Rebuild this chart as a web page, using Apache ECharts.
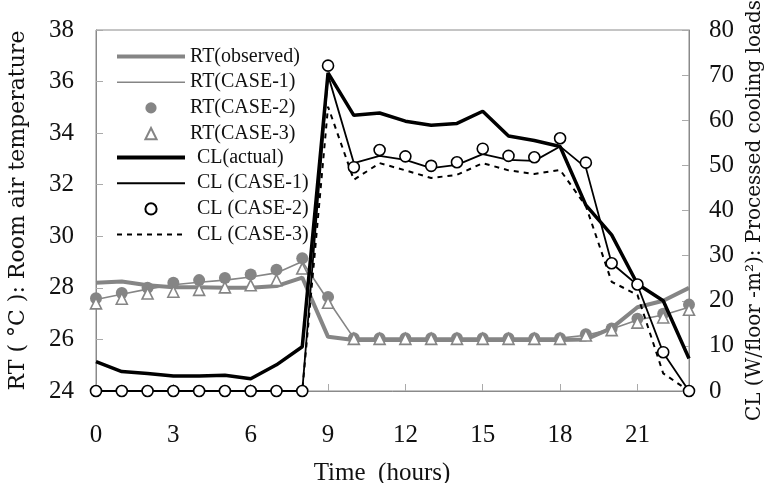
<!DOCTYPE html>
<html>
<head>
<meta charset="utf-8">
<script src="https://cdn.jsdelivr.net/npm/echarts@6/dist/echarts.min.js"></script>
<style>html,body{margin:0;padding:0;background:#fff;}#chart{width:771px;height:483px;}</style>
</head>
<body>
<div id="chart"></div>
<script>
const hours = [0,1,2,3,4,5,6,7,8,9,10,11,12,13,14,15,16,17,18,19,20,21,22,23];
const xTicks = [0,3,6,9,12,15,18,21];
const rtObserved = [28.2,28.25,28.1,28.02,28.02,28.0,28.0,28.07,28.4,26.1,25.98,25.98,25.98,25.98,25.98,25.98,25.98,25.98,25.98,26.0,26.44,27.25,27.5,28.0];
const rtCase1 = [27.55,27.75,27.95,28.12,28.22,28.3,28.42,28.58,29.02,27.52,26.05,26.05,26.05,26.05,26.05,26.05,26.05,26.05,26.05,26.16,26.4,26.75,26.95,27.25];
const rtCase2 = [27.6,27.8,28.0,28.2,28.3,28.38,28.52,28.7,29.15,27.65,26.05,26.05,26.05,26.05,26.05,26.05,26.05,26.05,26.05,26.2,26.42,26.8,27.0,27.35];
const rtCase3 = [27.4,27.58,27.78,27.85,27.92,28.02,28.1,28.3,28.75,27.42,26.02,26.02,26.02,26.02,26.02,26.02,26.02,26.02,26.02,26.15,26.36,26.65,26.85,27.15];
const clActual = [6.5,4.3,3.9,3.3,3.3,3.5,2.7,5.8,9.8,70.5,61.1,61.6,59.8,58.9,59.3,62.0,56.5,55.5,54.2,41.2,34.6,23.7,20.0,7.2];
const clCase1 = [0,0,0,0,0,0,0,0,0,70.0,50.5,52.1,51.2,49.4,50.1,52.5,51.2,51.0,54.2,49.5,28.3,23.5,8.5,0];
const clCase2 = [0,0,0,0,0,0,0,0,0,72.1,49.6,53.4,52.0,49.9,50.7,53.7,52.1,51.8,56.0,50.6,28.3,23.6,8.6,0];
const clCase3 = [0,0,0,0,0,0,0,0,0,63.0,46.8,50.5,48.9,47.2,47.9,50.5,48.9,48.1,49.0,41.0,24.2,21.3,3.9,0];
const rtNames = ['RT(observed)','RT(CASE-1)','RT(CASE-2)','RT(CASE-3)'];
const clNames = ['CL(actual)','CL (CASE-1)','CL (CASE-2)','CL (CASE-3)'];

const serif = 'Liberation Serif';
const GRAY = '#858585';
const pairs = arr => hours.map((h, i) => [h, arr[i]]);

// legend icon styles per entry
const legendStyles = {
  'RT(observed)': {line: {color: GRAY, width: 4}},
  'RT(CASE-1)': {line: {color: GRAY, width: 1.6}},
  'RT(CASE-2)': {marker: true},
  'RT(CASE-3)': {marker: true},
  'CL(actual)': {line: {color: '#000', width: 4}},
  'CL (CASE-1)': {line: {color: '#000', width: 2}},
  'CL (CASE-2)': {marker: true},
  'CL (CASE-3)': {line: {color: '#000', width: 2, type: [5, 5]}}
};
const legendData = names => names.map(n => legendStyles[n].marker
  ? {name: n, lineStyle: {opacity: 0, width: 0}}
  : {name: n, lineStyle: Object.assign({opacity: 1}, legendStyles[n].line), itemStyle: {opacity: 0}});

const chart = echarts.init(document.getElementById('chart'), null, {renderer: 'canvas'});
const legendBase = {
  orient: 'vertical', left: 110, itemWidth: 68, itemHeight: 14, itemGap: 5.7,
  textStyle: {fontFamily: serif, fontSize: 20, color: '#111', lineHeight: 20},
  selectedMode: false
};
chart.setOption({
  animation: false,
  backgroundColor: '#fff',
  grid: {left: 96, right: 82, top: 30, bottom: 92, show: true, borderColor: '#8a8a8a', borderWidth: 1,
    outerBoundsMode: 'none', containLabel: false},
  legend: [
    Object.assign({}, legendBase, {top: 41.5, data: legendData(rtNames)}),
    Object.assign({}, legendBase, {top: 142.5, data: legendData(clNames),
      textStyle: {fontFamily: serif, fontSize: 20, color: '#111', lineHeight: 20, padding: [0,0,0,7]}})
  ],
  xAxis: {
    type: 'value', min: 0, max: 23, interval: 3,
    name: 'Time  (hours)', nameLocation: 'middle', nameGap: 70,
    nameTextStyle: {fontFamily: serif, fontSize: 25, color: '#111', padding: [0,21,0,0]},
    axisLine: {show: true, lineStyle: {color: '#8a8a8a', width: 1}},
    axisTick: {show: true, inside: true, length: 7, lineStyle: {color: '#aaa'}},
    axisLabel: {fontFamily: serif, fontSize: 25, color: '#111', margin: 32, showMaxLabel: false,
      formatter: v => xTicks.indexOf(v) >= 0 ? String(v) : ''},
    splitLine: {show: false}
  },
  yAxis: [
    {
      type: 'value', min: 24, max: 38, interval: 2, position: 'left',
      name: 'RT ( °C ): Room air temperature', nameLocation: 'middle', nameGap: 67,
      nameTextStyle: {fontFamily: 'DejaVu Serif', fontSize: 22, color: '#111'},
      axisLine: {show: true, lineStyle: {color: '#8a8a8a', width: 1}},
      axisTick: {show: true, inside: true, length: 7, lineStyle: {color: '#aaa'}},
      axisLabel: {fontFamily: serif, fontSize: 25, color: '#111', margin: 22},
      splitLine: {show: false}
    },
    {
      type: 'value', min: 0, max: 80, interval: 10, position: 'right',
      name: 'CL (W/floor -m²): Processed cooling loads', nameLocation: 'middle', nameGap: 55,
      nameTextStyle: {fontFamily: 'DejaVu Serif', fontSize: 20, color: '#111'},
      axisLine: {show: true, lineStyle: {color: '#8a8a8a', width: 1}},
      axisTick: {show: true, inside: true, length: 7, lineStyle: {color: '#aaa'}},
      axisLabel: {fontFamily: serif, fontSize: 25, color: '#111', margin: 20},
      splitLine: {show: false}
    }
  ],
  series: [
    {name: 'RT(observed)', type: 'line', yAxisIndex: 0, data: pairs(rtObserved), symbol: 'none',
      lineStyle: {color: GRAY, width: 4}, itemStyle: {color: GRAY}, z: 2},
    {name: 'RT(CASE-1)', type: 'line', yAxisIndex: 0, data: pairs(rtCase1), symbol: 'none',
      lineStyle: {color: GRAY, width: 1.6}, itemStyle: {color: GRAY}, z: 2},
    {name: 'RT(CASE-2)', type: 'line', yAxisIndex: 0, data: pairs(rtCase2), symbol: 'circle', symbolSize: 12,
      lineStyle: {opacity: 0, width: 0}, itemStyle: {color: GRAY, borderWidth: 0}, z: 3},
    {name: 'RT(CASE-3)', type: 'line', yAxisIndex: 0, data: pairs(rtCase3), symbol: 'triangle', symbolSize: 11,
      lineStyle: {opacity: 0, width: 0}, itemStyle: {color: '#fff', borderColor: GRAY, borderWidth: 1.6}, z: 4},
    {name: 'CL(actual)', type: 'line', yAxisIndex: 1, data: pairs(clActual), symbol: 'none',
      lineStyle: {color: '#000', width: 3.5}, itemStyle: {color: '#000'}, z: 5},
    {name: 'CL (CASE-1)', type: 'line', yAxisIndex: 1, data: pairs(clCase1), symbol: 'none',
      lineStyle: {color: '#000', width: 1.8}, itemStyle: {color: '#000'}, z: 5},
    {name: 'CL (CASE-2)', type: 'line', yAxisIndex: 1, data: pairs(clCase2), symbol: 'circle', symbolSize: 11,
      lineStyle: {opacity: 0, width: 0}, itemStyle: {color: '#fff', borderColor: '#000', borderWidth: 1.6}, z: 6},
    {name: 'CL (CASE-3)', type: 'line', yAxisIndex: 1, data: pairs(clCase3), symbol: 'none',
      lineStyle: {color: '#000', width: 2, type: [5, 5]}, itemStyle: {color: '#000'}, z: 5}
  ]
});
</script>
</body>
</html>
